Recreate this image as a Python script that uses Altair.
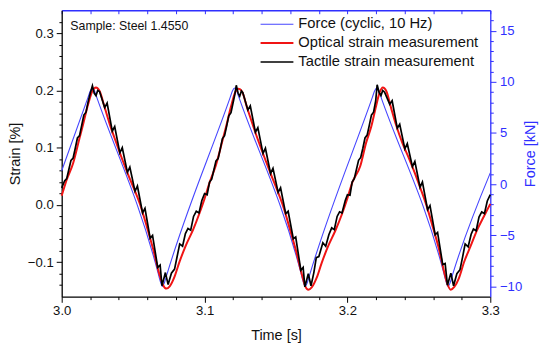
import altair as alt
import pandas as pd

# ---- data ----
series_names = ["Force (cyclic, 10 Hz)", "Optical strain measurement", "Tactile strain measurement"]
series_colors = ["#4646ff", "#f01414", "#000000"]
series_widths = [1.1, 2.0, 1.7]
annotation = ["Sample: Steel 1.4550"]

time_ticks = [3.0, 3.02, 3.04, 3.06, 3.08, 3.1, 3.12, 3.14, 3.16, 3.18, 3.2, 3.22, 3.24, 3.26, 3.28, 3.3]
strain_ticks = [-0.14, -0.12, -0.1, -0.08, -0.06, -0.04, -0.02, 0.0, 0.02, 0.04, 0.06, 0.08, 0.1,
                0.12, 0.14, 0.16, 0.18, 0.2, 0.22, 0.24, 0.26, 0.28, 0.3, 0.32]
force_ticks = [-10, -9, -8, -7, -6, -5, -4, -3, -2, -1, 0, 1, 2, 3, 4, 5, 6, 7, 8, 9, 10,
               11, 12, 13, 14, 15, 16]

force_points = [
    (3.000, 1.3), (3.0185, 8.5), (3.0200, 9.1), (3.0215, 9.4), (3.0230, 9.1), (3.0245, 8.5),
    (3.0675, -8.7), (3.0690, -9.5), (3.0705, -10.0), (3.0720, -9.6), (3.0735, -8.9),
    (3.1180, 8.5), (3.1195, 9.1), (3.1210, 9.4), (3.1225, 9.1), (3.1240, 8.5),
    (3.1675, -8.7), (3.1690, -9.5), (3.1705, -10.0), (3.1720, -9.6), (3.1735, -8.9),
    (3.2175, 8.5), (3.2190, 9.1), (3.2205, 9.4), (3.2220, 9.1), (3.2235, 8.5),
    (3.2675, -8.7), (3.2690, -9.5), (3.2705, -10.0), (3.2720, -9.6), (3.2735, -8.9),
    (3.3000, 1.1),
]

optical_points = [
    (3.000, 0.016), (3.0035, 0.044), (3.008, 0.073), (3.0125, 0.117), (3.015, 0.141),
    (3.0185, 0.176), (3.0215, 0.199), (3.024, 0.205), (3.0265, 0.199), (3.030, 0.171),
    (3.0335, 0.142), (3.038, 0.110), (3.0425, 0.079), (3.047, 0.050), (3.051, 0.026),
    (3.055, 0.000), (3.0595, -0.037), (3.064, -0.077), (3.0685, -0.122), (3.071, -0.140),
    (3.0733, -0.146), (3.0756, -0.142), (3.079, -0.125), (3.0825, -0.099), (3.087, -0.070),
    (3.092, -0.043), (3.0965, -0.014),
    (3.100, 0.011), (3.1035, 0.039), (3.108, 0.070), (3.1125, 0.112), (3.115, 0.136),
    (3.1185, 0.172), (3.1215, 0.197), (3.1238, 0.203), (3.1262, 0.198), (3.130, 0.168),
    (3.134, 0.138), (3.1385, 0.106), (3.143, 0.076), (3.147, 0.050), (3.151, 0.025),
    (3.155, -0.002), (3.1595, -0.040), (3.164, -0.080), (3.1685, -0.125), (3.1705, -0.142),
    (3.1727, -0.148), (3.175, -0.144), (3.1785, -0.127), (3.182, -0.101), (3.1865, -0.072),
    (3.1915, -0.045), (3.196, -0.017),
    (3.200, 0.012), (3.2035, 0.040), (3.209, 0.068), (3.213, 0.108), (3.2166, 0.136),
    (3.220, 0.172), (3.2225, 0.196), (3.2248, 0.205), (3.2272, 0.199), (3.2305, 0.170),
    (3.234, 0.140), (3.2385, 0.108), (3.243, 0.082), (3.247, 0.057), (3.251, 0.030),
    (3.255, 0.002), (3.2595, -0.036), (3.264, -0.076), (3.268, -0.120), (3.270, -0.138),
    (3.2723, -0.148), (3.2748, -0.143), (3.278, -0.128), (3.2816, -0.100), (3.2862, -0.072),
    (3.2909, -0.043), (3.2955, -0.020), (3.300, 0.002),
]

tactile_points = [
    # cycle 1
    (3.0000, 0.030), (3.0020, 0.042), (3.0035, 0.046), (3.0050, 0.062), (3.0065, 0.078),
    (3.0080, 0.082), (3.0095, 0.099), (3.0110, 0.117), (3.0125, 0.121), (3.0140, 0.139),
    (3.0155, 0.157), (3.0170, 0.162), (3.0185, 0.180), (3.0200, 0.195), (3.0215, 0.208),
    (3.0228, 0.195), (3.0240, 0.191), (3.0252, 0.200), (3.0265, 0.198),
    (3.0301, 0.170), (3.0318, 0.178), (3.0354, 0.129), (3.0371, 0.137), (3.0407, 0.091),
    (3.0424, 0.100), (3.0460, 0.057), (3.0477, 0.066), (3.0513, 0.024), (3.0530, 0.033),
    (3.0566, -0.014), (3.0583, -0.006), (3.0619, -0.058), (3.0636, -0.053), (3.0672, -0.109),
    (3.0689, -0.105), (3.0702, -0.141), (3.0726, -0.118), (3.0745, -0.139),
    (3.0768, -0.119), (3.0790, -0.112), (3.0808, -0.090), (3.0826, -0.068), (3.0846, -0.072),
    (3.0866, -0.050), (3.0884, -0.041), (3.0903, -0.044), (3.0923, -0.020), (3.0942, -0.011),
    (3.0961, -0.014), (3.0981, 0.008), (3.1000, 0.020), (3.1018, 0.018),
    # cycle 2
    (3.1035, 0.040), (3.1050, 0.045), (3.1065, 0.061), (3.1080, 0.077), (3.1095, 0.081),
    (3.1110, 0.098), (3.1125, 0.116), (3.1140, 0.121), (3.1155, 0.138), (3.1170, 0.156),
    (3.1185, 0.161), (3.1200, 0.179), (3.1212, 0.193), (3.1222, 0.209), (3.1235, 0.195),
    (3.1246, 0.190), (3.1258, 0.199), (3.1268, 0.196),
    (3.1303, 0.166), (3.1320, 0.173), (3.1356, 0.127), (3.1373, 0.135), (3.1409, 0.090),
    (3.1426, 0.099), (3.1462, 0.055), (3.1479, 0.064), (3.1515, 0.022), (3.1532, 0.030),
    (3.1568, -0.015), (3.1585, -0.011), (3.1621, -0.059), (3.1638, -0.056), (3.1674, -0.114),
    (3.1690, -0.109), (3.1702, -0.143), (3.1726, -0.120), (3.1745, -0.141),
    (3.1765, -0.118), (3.1782, -0.092), (3.1800, -0.090), (3.1828, -0.066), (3.1848, -0.072),
    (3.1870, -0.052), (3.1890, -0.040), (3.1908, -0.043), (3.1928, -0.020), (3.1945, -0.012),
    (3.1962, -0.014), (3.1985, 0.008), (3.2000, 0.018), (3.2018, 0.017),
    # cycle 3
    (3.2033, 0.040), (3.2048, 0.046), (3.2063, 0.062), (3.2078, 0.078), (3.2093, 0.083),
    (3.2108, 0.099), (3.2123, 0.117), (3.2138, 0.122), (3.2153, 0.139), (3.2168, 0.157),
    (3.2183, 0.162), (3.2198, 0.182), (3.2208, 0.210), (3.2222, 0.196), (3.2235, 0.191),
    (3.2247, 0.200), (3.2260, 0.197),
    (3.2296, 0.176), (3.2313, 0.182), (3.2349, 0.134), (3.2366, 0.141), (3.2402, 0.098),
    (3.2419, 0.107), (3.2455, 0.067), (3.2472, 0.076), (3.2508, 0.031), (3.2525, 0.040),
    (3.2561, -0.008), (3.2578, -0.001), (3.2614, -0.052), (3.2631, -0.048), (3.2667, -0.104),
    (3.2684, -0.102), (3.2700, -0.140), (3.2724, -0.119), (3.2743, -0.141),
    (3.2766, -0.120), (3.2788, -0.113), (3.2806, -0.091), (3.2824, -0.068), (3.2845, -0.073),
    (3.2866, -0.051), (3.2882, -0.042), (3.2901, -0.045), (3.2921, -0.021), (3.2940, -0.012),
    (3.2959, -0.015), (3.2979, 0.007), (3.3000, 0.018),
]


def frame(points, name):
    return pd.DataFrame({"t": [p[0] for p in points], "v": [p[1] for p in points], "series": name})


force_df = frame(force_points, series_names[0])
optical_df = frame(optical_points, series_names[1])
tactile_df = frame(tactile_points, series_names[2])

FONT = "Liberation Sans"
BLUE_AXIS = "#2f2fff"
MAJOR_01 = "abs(datum.value*10 - round(datum.value*10)) < 0.000001"
MAJOR_5 = "abs(datum.value/5 - round(datum.value/5)) < 0.000001"

x_scale = alt.Scale(domain=[3.0, 3.3], nice=False, zero=False)
strain_scale = alt.Scale(domain=[-0.16, 0.34], nice=False, zero=False)
force_scale = alt.Scale(domain=[-11, 17], nice=False, zero=False)

legend = alt.Legend(
    orient="none", legendX=199, legendY=4.9, title=None, symbolType="stroke",
    symbolSize=1089, clipHeight=18.3, rowPadding=0, padding=0, labelFont=FONT,
    labelFontSize=14.8, labelColor="#111111", labelOffset=4, labelLimit=0,
)
color_enc = alt.Color("series:N", scale=alt.Scale(domain=series_names, range=series_colors), legend=legend)
width_enc = alt.StrokeWidth("series:N", scale=alt.Scale(type="ordinal", domain=series_names, range=series_widths),
                            legend=legend)

bottom_axis = alt.Axis(
    orient="bottom", values=time_ticks, title="Time [s]",
    labelExpr=f"{MAJOR_01} ? format(datum.value, '.1f') : ''",
    tickSize={"condition": {"test": MAJOR_01, "value": 5.7}, "value": 3},
    labelOverlap=False, labelFlush=False, labelFont=FONT, labelFontSize=13.2, labelColor="#111111",
    labelPadding=2, domainColor="#000000", domainWidth=1.3, tickColor="#000000", tickWidth=1,
    grid=False, titleFont=FONT, titleFontSize=14.5, titleFontWeight="normal", titleColor="#111111",
    titleBaseline="middle", titleX=215.5, titleY=39.5,
)
left_axis = alt.Axis(
    orient="left", values=strain_ticks, title="Strain [%]",
    labelExpr=f"{MAJOR_01} ? format(datum.value, '.1f') : ''",
    tickSize={"condition": {"test": MAJOR_01, "value": 5.5}, "value": 2.8},
    labelOverlap=False, labelFlush=False, labelFont=FONT, labelFontSize=13.2, labelColor="#111111",
    labelPadding=3, domainColor="#000000", domainWidth=1.3, tickColor="#000000", tickWidth=1,
    grid=False, titleFont=FONT, titleFontSize=14.5, titleFontWeight="normal", titleColor="#111111",
    titleAngle=270, titleAlign="center", titleBaseline="middle", titleX=-46, titleY=144,
)
right_axis = alt.Axis(
    orient="right", values=force_ticks, title="Force [kN]",
    labelExpr=f"{MAJOR_5} ? format(datum.value, 'd') : ''",
    tickSize={"condition": {"test": MAJOR_5, "value": 5.7}, "value": 3},
    labelOverlap=False, labelFlush=False, labelFont=FONT, labelFontSize=13.2, labelColor=BLUE_AXIS,
    labelPadding=3.5, domainColor=BLUE_AXIS, domainWidth=1.3, tickColor=BLUE_AXIS, tickWidth=1,
    grid=False, titleFont=FONT, titleFontSize=14.5, titleFontWeight="normal", titleColor=BLUE_AXIS,
    titleAngle=270, titleAlign="center", titleBaseline="middle", titleX=40.5, titleY=144,
)
top_axis = alt.Axis(
    orient="top", values=time_ticks, title=None, labels=False,
    tickSize={"expr": "-3.5"}, domainColor=BLUE_AXIS, domainWidth=1.3, tickColor=BLUE_AXIS,
    tickWidth=1, grid=False,
)

force_layer = alt.Chart(force_df).mark_line(interpolate="monotone").encode(
    x=alt.X("t:Q", scale=x_scale, axis=top_axis),
    y=alt.Y("v:Q", scale=force_scale, axis=right_axis),
    color=color_enc, strokeWidth=width_enc,
)
optical_layer = alt.Chart(optical_df).mark_line(interpolate="monotone").encode(
    x=alt.X("t:Q", scale=x_scale, axis=bottom_axis),
    y=alt.Y("v:Q", scale=strain_scale, axis=left_axis),
    color=color_enc, strokeWidth=width_enc,
)
tactile_layer = alt.Chart(tactile_df).mark_line().encode(
    x=alt.X("t:Q", scale=x_scale, axis=None),
    y=alt.Y("v:Q", scale=strain_scale, axis=None),
    color=color_enc, strokeWidth=width_enc,
)
note_layer = alt.Chart(pd.DataFrame({"label": annotation})).mark_text(
    align="left", baseline="middle", font=FONT, fontSize=12.4, color="#111111"
).encode(text="label:N", x=alt.value(8.7), y=alt.value(16))

chart = alt.layer(force_layer, optical_layer, tactile_layer, note_layer).resolve_scale(
    y="independent"
).resolve_axis(x="independent", y="independent").properties(
    width=431, height=288,
    autosize=alt.AutoSizeParams(type="none"),
    padding={"left": 54, "top": 1.3, "right": 52, "bottom": 50},
).configure_view(stroke=None)

chart.save("out.html", embed_options={"renderer": "svg", "actions": False})
